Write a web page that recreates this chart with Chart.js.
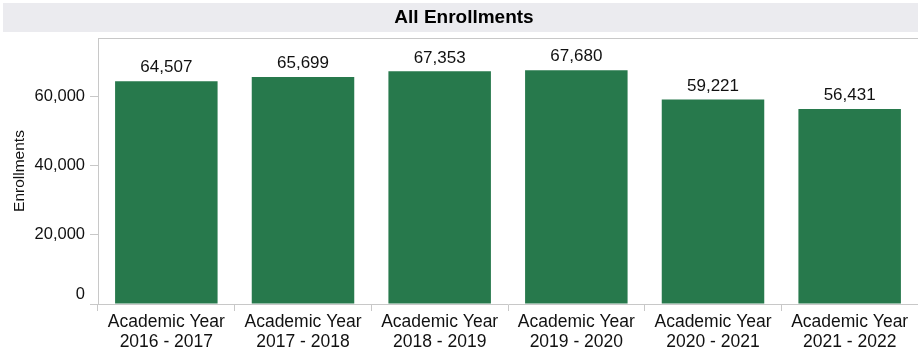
<!DOCTYPE html>
<html>
<head>
<meta charset="utf-8">
<script src="https://cdn.jsdelivr.net/npm/chart.js@4/dist/chart.umd.min.js"></script>
<style>
  html, body { margin: 0; padding: 0; background: #fff; }
  #wrap { width: 918px; height: 354px; }
</style>
</head>
<body>
<div id="wrap"><canvas id="enrollChart" width="918" height="354"></canvas></div>
<script>
// data
const years = [
    ["Academic Year", "2016 - 2017"],
    ["Academic Year", "2017 - 2018"],
    ["Academic Year", "2018 - 2019"],
    ["Academic Year", "2019 - 2020"],
    ["Academic Year", "2020 - 2021"],
    ["Academic Year", "2021 - 2022"]
];
const enrollments = [64507, 65699, 67353, 67680, 59221, 56431];
const yTicks = [0, 20000, 40000, 60000];
const chartTitle = "All Enrollments";

const fontFamily = "'Liberation Sans', Arial, sans-serif";
const axisColor = "#c8c8c8";
const textColor = "#111";

// grey title band + top border of the plot
const framePlugin = {
    id: "frame",
    beforeDraw(chart) {
        const ctx = chart.ctx;
        const area = chart.chartArea;
        ctx.save();
        ctx.fillStyle = "#ebebef";
        ctx.fillRect(3, 3, chart.width - 3, 29);
        ctx.fillStyle = "#000";
        ctx.font = "bold 19px " + fontFamily;
        ctx.textAlign = "center";
        ctx.textBaseline = "middle";
        ctx.fillText(chartTitle, chart.width / 2 + 5, 18);
        ctx.fillStyle = axisColor;
        ctx.fillRect(area.left, area.top, chart.width - area.left, 1);
        ctx.restore();
    },
    afterDraw(chart) {
        // the zero label sits just above its tick
        const y = chart.scales.y;
        const ctx = chart.ctx;
        ctx.save();
        ctx.fillStyle = textColor;
        ctx.font = "16.5px " + fontFamily;
        ctx.textAlign = "right";
        ctx.textBaseline = "middle";
        ctx.fillText("0", y.right - 13, y.getPixelForValue(0) - 10);
        ctx.restore();
    }
};

// value labels above the bars
const valueLabels = {
    id: "valueLabels",
    afterDatasetsDraw(chart) {
        const ctx = chart.ctx;
        const meta = chart.getDatasetMeta(0);
        ctx.save();
        ctx.fillStyle = textColor;
        ctx.font = "17px " + fontFamily;
        ctx.textAlign = "center";
        ctx.textBaseline = "bottom";
        meta.data.forEach((bar, i) => {
            ctx.fillText(enrollments[i].toLocaleString("en-US"), bar.x, bar.y - 5);
        });
        ctx.restore();
    }
};

let ctx = document.getElementById("enrollChart").getContext("2d");
let enrollChart = new Chart(ctx, {
    type: "bar",
    data: {
        labels: years,
        datasets: [{
            label: "Enrollments",
            data: enrollments,
            backgroundColor: "#27794c",
            categoryPercentage: 0.75,
            barPercentage: 1
        }]
    },
    options: {
        responsive: false,
        animation: false,
        layout: { padding: { top: 38, right: 0, left: 0, bottom: 0 } },
        plugins: {
            legend: { display: false },
            tooltip: { enabled: false }
        },
        scales: {
            x: {
                grid: {
                    offset: true,
                    drawOnChartArea: false,
                    tickLength: 7,
                    color: c => c.index >= years.length ? "rgba(0,0,0,0)" : axisColor
                },
                border: { color: axisColor },
                ticks: {
                    color: textColor,
                    font: { family: fontFamily, size: 17.5, lineHeight: 1.1 },
                    padding: 2,
                    maxRotation: 0,
                    autoSkip: false
                },
                afterFit(scale) { scale.height = 50; }
            },
            y: {
                min: 0,
                max: 77000,
                afterBuildTicks(scale) { scale.ticks = yTicks.map(v => ({ value: v })); },
                grid: { drawOnChartArea: false, tickLength: 8, color: axisColor },
                border: { color: axisColor },
                ticks: {
                    color: textColor,
                    font: { family: fontFamily, size: 16.5 },
                    padding: 5,
                    callback: v => v === 0 ? "" : v.toLocaleString("en-US")
                },
                title: {
                    display: true,
                    text: "Enrollments",
                    color: textColor,
                    font: { family: fontFamily, size: 15.5 },
                    padding: { top: 10, bottom: 0 }
                },
                afterFit(scale) { scale.width = 98; }
            }
        }
    },
    plugins: [framePlugin, valueLabels]
});
</script>
</body>
</html>
